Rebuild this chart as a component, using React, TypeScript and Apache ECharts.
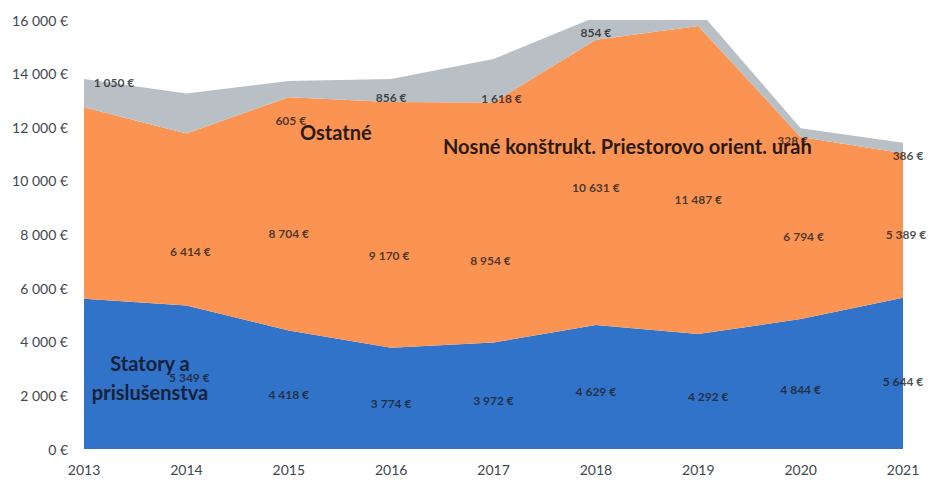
import React, { useEffect, useRef } from "react";
import * as echarts from "echarts";

const years = ["2013", "2014", "2015", "2016", "2017", "2018", "2019", "2020", "2021"];
const statory = [5600, 5349, 4418, 3774, 3972, 4629, 4292, 4844, 5644];
const nosne = [7150, 6414, 8704, 9170, 8954, 10631, 11487, 6794, 5389];
const ostatne = [1050, 1500, 605, 856, 1618, 854, 600, 328, 386];
const yTicks = [0, 2000, 4000, 6000, 8000, 10000, 12000, 14000, 16000];

// years whose value label is not shown in the reference
const hiddenStatory = ["2013"];
const hiddenNosne = ["2013"];
const hiddenOstatne = ["2014", "2019"];

// small pixel nudges for individual value labels (styling only)
const nudgeOstatne: Record<string, [number, number]> = {
  "2013": [30, -21],
  "2015": [2, 27],
  "2017": [8, 0],
  "2018": [0, -3],
  "2020": [-8, 8],
  "2021": [5, 6],
};
const nudgeNosne: Record<string, [number, number]> = {
  "2014": [4, 12],
  "2016": [-2, 11],
  "2017": [-3, 18],
  "2018": [0, -15],
  "2020": [3, -12],
  "2021": [3, -11],
};
const nudgeStatory: Record<string, [number, number]> = {
  "2014": [3, -5],
  "2019": [10, 0],
  "2021": [0, 3],
};

const BLUE = "#3173c9";
const ORANGE = "#fb9453";
const GRAY = "#b8bfc5";
const FONT = "Lato, 'Open Sans', sans-serif";

const fmt = (v: number) => v.toString().replace(/\B(?=(\d{3})+(?!\d))/g, " ") + " €";

export default function App() {
  const ref = useRef<HTMLDivElement>(null);
  useEffect(() => {
    if (!ref.current) return;
    const chart = echarts.init(ref.current, null, { renderer: "svg" });

    const labelPoints = (
      vals: number[],
      base: number[],
      hidden: string[],
      mode: "mid" | "base",
      dx: number,
      dy: number,
      nudge: Record<string, [number, number]>
    ) =>
      years
        .map((y, i) => ({
          value: [i, mode === "mid" ? base[i] + vals[i] / 2 : base[i]],
          raw: vals[i],
          year: y,
        }))
        .filter((d) => !hidden.includes(d.year))
        .map((d) => {
          const n = nudge[d.year] || [0, 0];
          return {
            value: d.value,
            label: {
              show: true,
              position: "inside",
              offset: [dx + n[0], dy + n[1]],
              formatter: () => fmt(d.raw),
            },
          };
        });

    const zeros = years.map(() => 0);
    const cum2 = years.map((_, i) => statory[i] + nosne[i]);

    const scatterBase = {
      type: "scatter",
      symbolSize: 0,
      silent: true,
      clip: false,
      z: 10,
      label: {
        show: true,
        color: "#1d1d1d",
        fontFamily: FONT,
        fontWeight: "bold",
        fontSize: 12,
      },
    };

    const areaBase = {
      type: "line",
      stack: "total",
      symbol: "none",
      smooth: false,
      lineStyle: { width: 0 },
      clip: true,
    };

    chart.setOption({
      animation: false,
      grid: { left: 84, right: 28, top: 20, bottom: 34 },
      xAxis: {
        type: "category",
        data: years,
        boundaryGap: false,
        axisLine: { show: false },
        axisTick: { show: false },
        axisLabel: { color: "#3d4650", fontFamily: FONT, fontSize: 14, margin: 13 },
      },
      yAxis: {
        type: "value",
        min: yTicks[0],
        max: yTicks[yTicks.length - 1],
        interval: 2000,
        splitLine: { show: false },
        axisLine: { show: false },
        axisTick: { show: false },
        axisLabel: {
          color: "#3d4650",
          fontFamily: FONT,
          fontSize: 14,
          margin: 16,
          formatter: (v: number) => fmt(v),
        },
      },
      series: [
        { ...areaBase, name: "Statory a prislušenstva", data: statory, areaStyle: { color: BLUE, opacity: 1 } },
        { ...areaBase, name: "Nosné konštrukt. Priestorovo orient. urah", data: nosne, areaStyle: { color: ORANGE, opacity: 1 } },
        { ...areaBase, name: "Ostatné", data: ostatne, areaStyle: { color: GRAY, opacity: 1 } },
        { ...scatterBase, data: labelPoints(statory, zeros, hiddenStatory, "mid", 0, 5, nudgeStatory) },
        { ...scatterBase, data: labelPoints(nosne, statory, hiddenNosne, "mid", 0, 20, nudgeNosne) },
        { ...scatterBase, data: labelPoints(ostatne, cum2, hiddenOstatne, "base", 0, -4, nudgeOstatne) },
      ],
      graphic: [
        {
          type: "text",
          z: 100,
          x: 150,
          y: 348,
          style: {
            text: "Statory a\nprislušenstva",
            font: `bold 20px ${FONT}`,
            fill: "#16213a",
            align: "center",
            lineHeight: 29,
          },
        },
        {
          type: "text",
          z: 100,
          x: 300,
          y: 122,
          style: { text: "Ostatné", font: `bold 20px ${FONT}`, fill: "#2a1a12" },
        },
        {
          type: "text",
          z: 100,
          x: 443,
          y: 136,
          style: {
            text: "Nosné konštrukt. Priestorovo orient. urah",
            font: `bold 20px ${FONT}`,
            fill: "#2a1a12",
          },
        },
      ],
    });
    return () => chart.dispose();
  }, []);
  return <div ref={ref} style={{ width: 931, height: 483, position: "absolute", left: 0, top: 0 }} />;
}
